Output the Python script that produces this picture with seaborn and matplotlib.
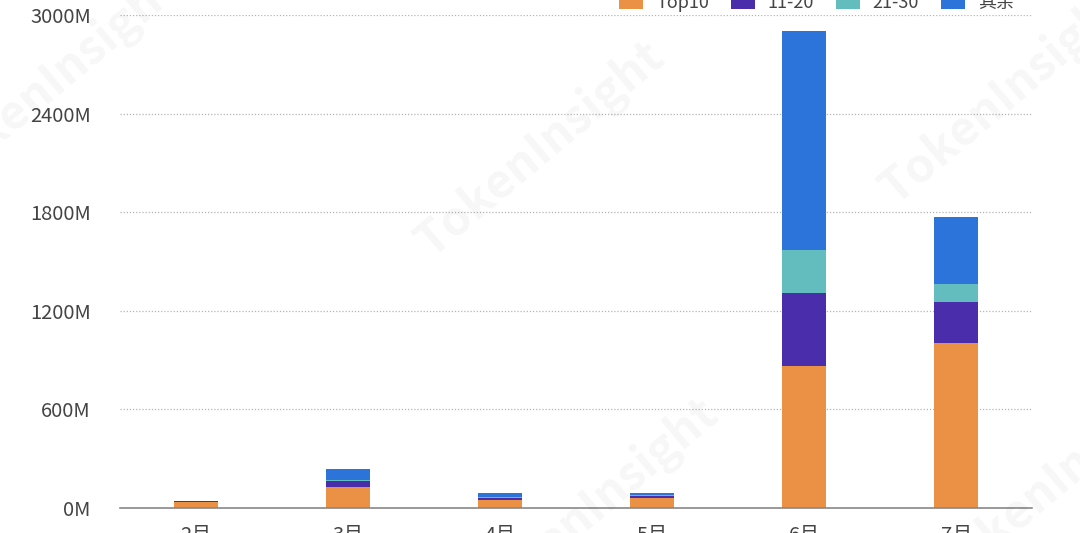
import numpy as np
import pandas as pd
import matplotlib
matplotlib.use("Agg")
import matplotlib.pyplot as plt
import seaborn as sns

months = ["2月", "3月", "4月", "5月", "6月", "7月"]
top10 = [35, 129, 46, 60, 866, 1002]
r11_20 = [6, 36, 14, 12, 439, 250]
r21_30 = [1, 8, 8, 4, 265, 112]
others = [2, 63, 21, 14, 1333, 404]

series_names = ["Top10", "11-20", "21-30", "其余"]
colors = ["#EB9146", "#4A2DAA", "#63BCBE", "#2D74DA"]
yticks = [0, 600, 1200, 1800, 2400, 3000]

sns.set_theme(style="white")
plt.rcParams["font.family"] = ["Noto Sans CJK SC", "DejaVu Sans"]

df = pd.DataFrame({"month": months, "Top10": top10, "11-20": r11_20,
                   "21-30": r21_30, "其余": others})
cum = df[series_names].cumsum(axis=1)

fig = plt.figure(figsize=(10.8, 5.33), dpi=100)
ax = fig.add_axes([0.111, 0.047, 0.845, 0.925])

# stacked: draw the tallest cumulative layer first, smaller ones on top
for name, c in reversed(list(zip(series_names, colors))):
    sns.barplot(x=df["month"], y=cum[name], color=c, width=0.29,
                saturation=1, ax=ax, label=name, linewidth=0, edgecolor="none")
if ax.get_legend() is not None:
    ax.get_legend().remove()

# watermarks
for (wx, wy) in [(0.05, 0.85), (0.5, 0.72), (0.93, 0.82), (0.55, 0.05), (0.98, 0.1)]:
    fig.text(wx, wy, "TokenInsight", fontsize=34, fontweight="bold",
             color="#000000", alpha=0.035, rotation=40, ha="center", va="center")

ax.set_ylim(0, 3000)
ax.set_xlim(-0.5, 5.5)
ax.set_yticks(yticks)
ax.set_yticklabels([f"{v}M" for v in yticks])
ax.set_xlabel("")
ax.set_ylabel("")
for v in yticks[1:]:
    ax.axhline(v, color="#b5b5b5", lw=0.9, ls=(0, (1, 1.5)), zorder=0)
for s in ["top", "right", "left"]:
    ax.spines[s].set_visible(False)
ax.spines["bottom"].set_color("#888888")
ax.spines["bottom"].set_linewidth(1.2)
ax.tick_params(axis="y", length=0, pad=21, labelsize=14.5, labelcolor="#444444")
ax.tick_params(axis="x", length=0, pad=12, labelsize=14.5, labelcolor="#444444")

handles, labels = ax.get_legend_handles_labels()
order = [labels.index(n) for n in series_names]
fig.legend([handles[i] for i in order], series_names, loc="center",
           bbox_to_anchor=(0.756, 0.995), ncol=4, frameon=False, fontsize=13,
           handlelength=1.33, handleheight=0.9, columnspacing=1.2,
           handletextpad=0.72, labelcolor="#444444")

fig.savefig("out.png", dpi=100)
